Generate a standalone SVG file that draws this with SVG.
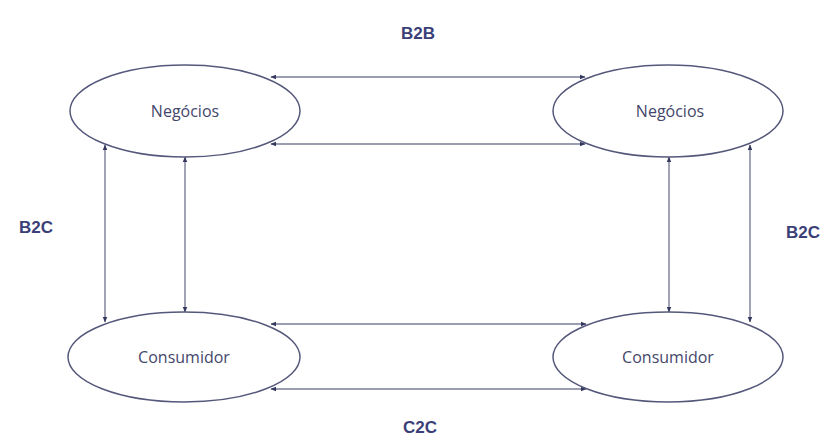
<svg xmlns="http://www.w3.org/2000/svg" width="831" height="441" viewBox="0 0 831 441">
  <defs>
    <marker id="tip" viewBox="0 0 10 10" refX="9" refY="5" markerWidth="4" markerHeight="4" orient="auto-start-reverse">
      <path d="M0,1 L10,5 L0,9 Z" fill="#35385e"/>
    </marker>
    <style>
      .node ellipse { fill: #ffffff; stroke: #55587a; stroke-width: 1.5; }
      .node text { font-family: "Open Sans", "Liberation Sans", sans-serif; font-size: 16px; fill: #44466a; text-anchor: middle; }
      .label { font-family: "Liberation Sans", Arial, sans-serif; font-weight: bold; font-size: 17px; fill: #3b3f78; text-anchor: middle; }
      #connectors line { stroke: #7a7d96; stroke-width: 1.4; marker-start: url(#tip); marker-end: url(#tip); }
    </style>
  </defs>
  <rect width="831" height="441" fill="#ffffff"/>

  <g id="connectors">
    <!-- B2B -->
    <line x1="271" y1="77" x2="585" y2="77"/>
    <line x1="271" y1="144" x2="585" y2="144"/>
    <!-- C2C -->
    <line x1="271" y1="324" x2="586" y2="324"/>
    <line x1="271" y1="389" x2="586" y2="389"/>
    <!-- B2C left -->
    <line x1="105" y1="145" x2="105" y2="322"/>
    <line x1="185" y1="157" x2="185" y2="312"/>
    <!-- B2C right -->
    <line x1="669" y1="157" x2="669" y2="312"/>
    <line x1="750" y1="145" x2="750" y2="322"/>
  </g>

  <g id="business-left" class="node">
    <ellipse cx="185" cy="111" rx="115" ry="46"/>
    <text x="185" y="117">Negócios</text>
  </g>
  <g id="business-right" class="node">
    <ellipse cx="668" cy="111" rx="115" ry="46"/>
    <text x="670" y="117">Negócios</text>
  </g>
  <g id="consumer-left" class="node">
    <ellipse cx="184" cy="357" rx="116" ry="45"/>
    <text x="184" y="363">Consumidor</text>
  </g>
  <g id="consumer-right" class="node">
    <ellipse cx="668" cy="357" rx="115" ry="45"/>
    <text x="668" y="363">Consumidor</text>
  </g>

  <text class="label" x="418" y="39">B2B</text>
  <text class="label" x="36" y="233">B2C</text>
  <text class="label" x="803" y="238">B2C</text>
  <text class="label" x="420" y="433">C2C</text>
</svg>
